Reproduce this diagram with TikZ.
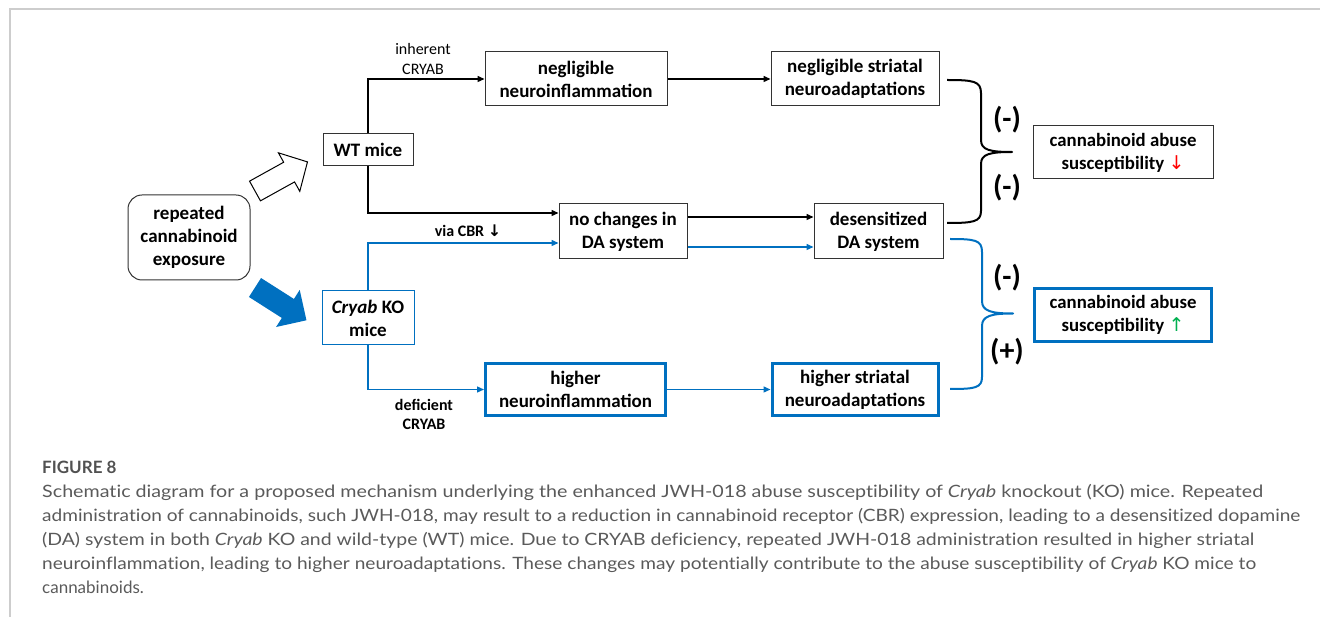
\documentclass[tikz,border=0pt]{standalone}
\usepackage{graphicx}
\usepackage{fontspec}
\setmainfont{Carlito}
\newfontfamily\capfont{Lato}[Ligatures=NoCommon]
\newfontfamily\symfont{DejaVu Sans}
\usetikzlibrary{arrows.meta}
\definecolor{kblue}{HTML}{0070C0}
\definecolor{kred}{HTML}{FF0000}
\definecolor{kgreen}{HTML}{00B050}
\definecolor{capgray}{HTML}{5A5A5A}
\definecolor{framegray}{HTML}{CDCDCD}
\begin{document}
\begin{tikzpicture}[x=1pt,y=-1pt,
  box/.style={draw=black!80, line width=1pt, fill=white, align=center, inner sep=0pt,
    font=\bfseries\fontsize{19}{23}\selectfont},
  bbox/.style={box, draw=kblue, line width=3pt},
  conn/.style={line width=1.4pt, -{Triangle[length=7pt,width=6pt]}},
  bconn/.style={conn, draw=kblue},
  lbl/.style={align=center, inner sep=0pt},
  sign/.style={font=\bfseries\fontsize{30}{30}\selectfont, inner sep=0pt},
  capline/.style={anchor=base west, inner sep=0pt, text=capgray,
    font=\capfont\fontsize{17}{24}\selectfont}]
\useasboundingbox (0,0) rectangle (1320,617);
% frame
\draw[framegray, line width=2pt] (9.5,617) -- (9.5,9.5) -- (1320,9.5);

% nodes
\node[box, rounded corners=14pt, minimum width=122pt, minimum height=85pt] (rep) at (189,237.5) {repeated\\cannabinoid\\exposure};
\node[box, minimum width=90pt, minimum height=32pt] (wt) at (368,150) {WT mice};
\node[box, draw=kblue, minimum width=92pt, minimum height=54pt] (ko) at (368,318) {\textit{Cryab} KO\\mice};
\node[box, minimum width=182pt, minimum height=54pt] (nn) at (576,79) {negligible\\neuroinflammation};
\node[box, minimum width=168pt, minimum height=54pt] (ns) at (855,79) {negligible striatal\\neuroadaptations};
\node[box, minimum width=128pt, minimum height=55pt] (nc) at (623,231.5) {no changes in\\DA system};
\node[box, minimum width=129pt, minimum height=55pt] (ds) at (878.5,231.5) {desensitized\\DA system};
\node[bbox, minimum width=180pt, minimum height=52pt] (hn) at (575.5,389.5) {higher\\neuroinflammation};
\node[bbox, minimum width=166pt, minimum height=52pt] (hs) at (855,389.5) {higher striatal\\neuroadaptations};
\node[box, minimum width=180pt, minimum height=53pt, font=\bfseries\fontsize{18.8}{23}\selectfont] (cd) at (1123,152.5) {cannabinoid abuse\\susceptibility {\color{kred}\symfont\mdseries\fontsize{19}{19}\selectfont ↓}};
\node[bbox, minimum width=177pt, minimum height=53pt, font=\bfseries\fontsize{18.8}{23}\selectfont] (cu) at (1123,315) {cannabinoid abuse\\susceptibility {\color{kgreen}\symfont\mdseries\fontsize{19}{19}\selectfont ↑}};

% block arrows
\begin{scope}[shift={(255,191)}, rotate=29]
\draw[line width=1pt, fill=white] (0,-11.25) -- (39,-11.25) -- (39,-22) -- (60,0) -- (39,22) -- (39,11.25) -- (0,11.25) -- cycle;
\end{scope}
\begin{scope}[shift={(255,287.5)}, rotate=-32.5]
\fill[kblue] (0,-11.25) -- (39,-11.25) -- (39,-22) -- (61,0) -- (39,22) -- (39,11.25) -- (0,11.25) -- cycle;
\end{scope}

% connectors
\draw[conn] (wt.north) |- (nn.west);
\draw[conn] (wt.south) |- ([yshift=18.5pt]nc.west);
\draw[bconn] (ko.north) |- ([yshift=-11.5pt]nc.west);
\draw[bconn] (ko.south) |- (hn.west);
\draw[conn] (nn.east) -- (ns.west);
\draw[conn] ([yshift=14.5pt]nc.east) -- ([yshift=14.5pt]ds.west);
\draw[bconn] ([yshift=-15.5pt]nc.east) -- ([yshift=-15.5pt]ds.west);
\draw[bconn] (hn.east) -- (hs.west);

% connector labels
\node[lbl, font=\fontsize{16}{20}\selectfont] (l1) at (423,59) {inherent\\CRYAB};
\node[lbl, font=\bfseries\fontsize{16}{19}\selectfont] (l2) at (468,231) {via CBR {\symfont\bfseries\fontsize{16}{16}\selectfont ↓}};
\node[lbl, font=\bfseries\fontsize{16}{19}\selectfont] (l3) at (424,414) {deficient\\CRYAB};

% braces
\draw[line width=2pt, line join=round] (947,80) .. controls (973,80) and (981,81) .. (981,93) -- (981,140) .. controls (981,150) and (990,152) .. (1012,152)
  .. controls (990,152) and (981,154) .. (981,164) -- (981,211) .. controls (981,222) and (973,223) .. (947,223);
\draw[kblue, line width=2pt, line join=round] (950,239) .. controls (975,239) and (982,240) .. (982,252) -- (982,301) .. controls (982,311) and (991,313.5) .. (1013,313.5)
  .. controls (991,313.5) and (982,316) .. (982,326) -- (982,377) .. controls (982,388) and (975,389) .. (950,389);

% signs
\node[sign] (s1) at (1007,120) {(-)};
\node[sign] (s2) at (1007,188) {(-)};
\node[sign] (s3) at (1007,278) {(-)};
\node[sign] (s4) at (1007,352) {(+)};

% caption
\node[capline, font=\capfont\bfseries\fontsize{17}{24}\selectfont, text=capgray!90!black] (fig) at (42,473) {FIGURE 8};
\node[capline] (c1) at (42,497) {\resizebox{1221pt}{\height}{Schematic diagram for a proposed mechanism underlying the enhanced JWH-018 abuse susceptibility of \textit{Cryab} knockout (KO) mice. Repeated}};
\node[capline] (c2) at (42,521) {\resizebox{1258pt}{\height}{administration of cannabinoids, such JWH-018, may result to a reduction in cannabinoid receptor (CBR) expression, leading to a desensitized dopamine}};
\node[capline] (c3) at (42,545) {\resizebox{1212pt}{\height}{(DA) system in both \textit{Cryab} KO and wild-type (WT) mice. Due to CRYAB deficiency, repeated JWH-018 administration resulted in higher striatal}};
\node[capline] (c4) at (42,569) {\resizebox{1214pt}{\height}{neuroinflammation, leading to higher neuroadaptations. These changes may potentially contribute to the abuse susceptibility of \textit{Cryab} KO mice to}};
\node[capline] (c5) at (42,593) {cannabinoids.};
\end{tikzpicture}
\end{document}
